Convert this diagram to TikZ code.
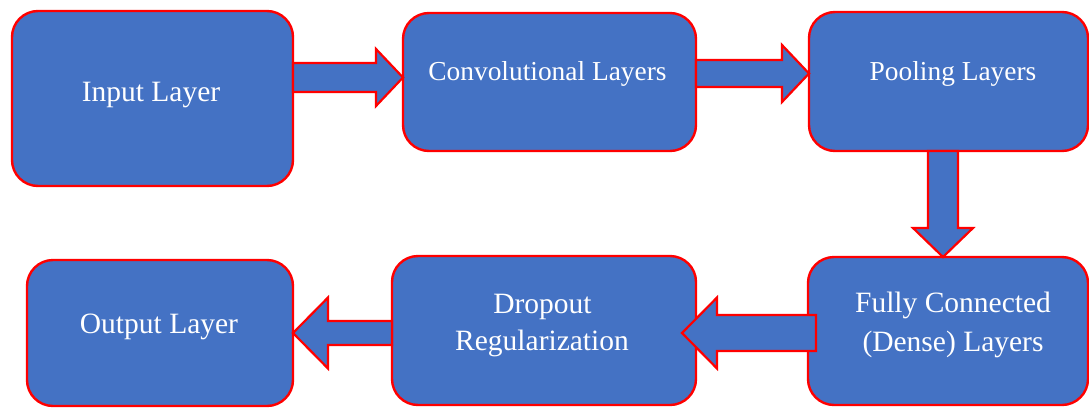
\documentclass[tikz,border=0pt]{standalone}
\usepackage{fontspec}
\setmainfont{Liberation Serif}
\usetikzlibrary{calc}
\definecolor{boxblue}{HTML}{4472C4}
\definecolor{boxred}{HTML}{FF0000}
\begin{document}
\begin{tikzpicture}[x=1pt,y=-1pt,
  box/.style={draw=boxred, fill=boxblue, line width=2.4pt, rounded corners=26pt, inner sep=0pt, outer sep=0pt},
  barrow/.style={draw=boxred, fill=boxblue, line width=2.2pt, line join=miter},
  lbl/.style={text=white, anchor=base, inner sep=0pt},
  big/.style={font=\fontsize{29.5}{40}\selectfont},
  small/.style={font=\fontsize{27.4}{36}\selectfont}]
\useasboundingbox (0,0) rectangle (1089,407);
\clip (0,0) rectangle (1089,407);
% boxes
\node[box, minimum width=281pt, minimum height=175pt] (in) at (152.5,98.5) {};
\node[box, minimum width=293pt, minimum height=138pt] (conv) at (549.5,82) {};
\node[box, minimum width=279pt, minimum height=139pt] (pool) at (948.5,81.5) {};
\node[box, minimum width=280pt, minimum height=148pt] (fc) at (948,331) {};
\node[box, minimum width=304pt, minimum height=149pt] (drop) at (544,330.5) {};
\node[box, minimum width=266pt, minimum height=146pt] (out) at (160,333) {};
% labels
\node[lbl, big] (tin) at (151,101) {Input Layer};
\node[lbl, small] (tconv) at (547.5,80) {Convolutional Layers};
\node[lbl, small] (tpool) at (953,80) {Pooling Layers};
\node[lbl, big] (tfc1) at (953,312) {Fully Connected};
\node[lbl, big] (tfc2) at (953,351) {(Dense) Layers};
\node[lbl, big] (tdr1) at (542.5,313) {Dropout};
\node[lbl, big] (tdr2) at (542,350) {Regularization};
\node[lbl, big] (tout) at (159,333) {Output Layer};
% arrow 1: input -> conv
\coordinate (t1) at (in.east |- 0,77.5);
\coordinate (h1) at (conv.west |- 0,77.5);
\draw[barrow] ([yshift=14.5pt]t1) -- ([xshift=-27pt,yshift=14.5pt]h1) -- ([xshift=-27pt,yshift=28.5pt]h1) -- (h1)
  -- ([xshift=-27pt,yshift=-28.5pt]h1) -- ([xshift=-27pt,yshift=-14.5pt]h1) -- ([yshift=-14.5pt]t1) -- cycle;
% arrow 2: conv -> pool
\coordinate (t2) at (conv.east |- 0,73.5);
\coordinate (h2) at (pool.west |- 0,73.5);
\draw[barrow] ([yshift=13.5pt]t2) -- ([xshift=-27pt,yshift=13.5pt]h2) -- ([xshift=-27pt,yshift=28.5pt]h2) -- (h2)
  -- ([xshift=-27pt,yshift=-28.5pt]h2) -- ([xshift=-27pt,yshift=-13.5pt]h2) -- ([yshift=-13.5pt]t2) -- cycle;
% arrow 3: pool -> fc (down)
\coordinate (t3) at (943,0 |- pool.south);
\coordinate (h3) at (943,0 |- fc.north);
\draw[barrow] ([xshift=-15pt]t3) -- ([xshift=-15pt,yshift=29pt]h3) -- ([xshift=-30pt,yshift=29pt]h3) -- (h3)
  -- ([xshift=30pt,yshift=29pt]h3) -- ([xshift=15pt,yshift=29pt]h3) -- ([xshift=15pt]t3) -- cycle;
% arrow 4: fc -> dropout (left)
\coordinate (t4) at ([xshift=8pt]fc.west |- 0,333);
\coordinate (h4) at ([xshift=-14pt]drop.east |- 0,333);
\draw[barrow] ([yshift=18pt]t4) -- ([xshift=35pt,yshift=18pt]h4) -- ([xshift=35pt,yshift=35.5pt]h4) -- (h4)
  -- ([xshift=35pt,yshift=-35.5pt]h4) -- ([xshift=35pt,yshift=-18pt]h4) -- ([yshift=-18pt]t4) -- cycle;
% arrow 5: dropout -> output (left)
\coordinate (t5) at (drop.west |- 0,333);
\coordinate (h5) at (out.east |- 0,333);
\draw[barrow] ([yshift=12pt]t5) -- ([xshift=35pt,yshift=12pt]h5) -- ([xshift=35pt,yshift=35.5pt]h5) -- (h5)
  -- ([xshift=35pt,yshift=-35.5pt]h5) -- ([xshift=35pt,yshift=-12pt]h5) -- ([yshift=-12pt]t5) -- cycle;
\end{tikzpicture}
\end{document}
